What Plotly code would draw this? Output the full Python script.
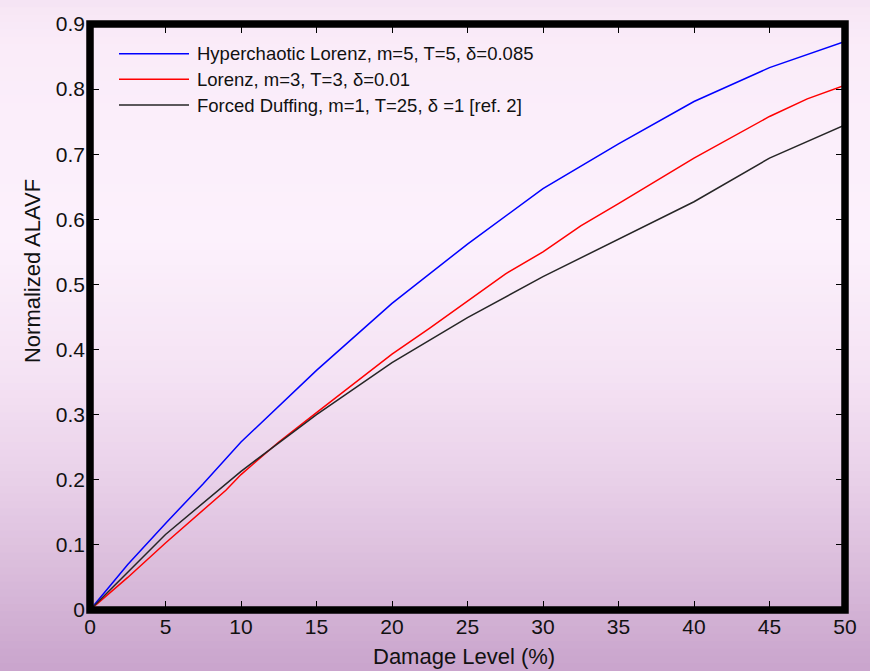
import plotly.graph_objects as go

# ---- data ----
x_hyper = [0, 2.5, 5, 7.5, 10, 15, 20, 25, 30, 35, 40, 45, 50]
y_hyper = [0, 0.07, 0.133, 0.194, 0.258, 0.368, 0.471, 0.562, 0.647, 0.716, 0.781, 0.833, 0.873]

x_lorenz = [0, 2.5, 5, 7.5, 9, 10, 12.5, 15, 17.5, 20, 22.5, 25, 27.5, 30, 32.5, 35, 40, 45, 47.5, 50]
y_lorenz = [0, 0.05, 0.103, 0.153, 0.184, 0.208, 0.258, 0.303, 0.348, 0.393, 0.433, 0.474, 0.516, 0.55, 0.59, 0.624, 0.694, 0.758, 0.785, 0.806]

x_duffing = [0, 5, 10, 15, 20, 25, 30, 35, 40, 45, 50]
y_duffing = [0, 0.116, 0.213, 0.3, 0.38, 0.449, 0.512, 0.57, 0.627, 0.694, 0.745]

series_names = [
    "Hyperchaotic Lorenz, m=5, T=5, δ=0.085",
    "Lorenz, m=3, T=3, δ=0.01",
    "Forced Duffing, m=1, T=25, δ =1 [ref. 2]",
]
series_colors = ["#0000ff", "#ff0000", "#262626"]

x_ticks = [0, 5, 10, 15, 20, 25, 30, 35, 40, 45, 50]
y_ticks = [0, 0.1, 0.2, 0.3, 0.4, 0.5, 0.6, 0.7, 0.8, 0.9]
y_tick_text = ["0", "0.1", "0.2", "0.3", "0.4", "0.5", "0.6", "0.7", "0.8", "0.9"]

x_title = "Damage Level (%)"
y_title = "Normalized ALAVF"

# ---- figure geometry (pixels) ----
W, H = 870, 671
L, R, T, B = 90, 25, 17, 61
pw, ph = W - L - R, H - T - B

def px2paper_x(px):
    return (px - L) / pw

def px2paper_y(py):
    return (H - B - py) / ph

FONT = "Liberation Sans, Arial, sans-serif"

fig = go.Figure()
for xs, ys, name, col in zip([x_hyper, x_lorenz, x_duffing],
                              [y_hyper, y_lorenz, y_duffing],
                              series_names, series_colors):
    fig.add_trace(go.Scatter(x=xs, y=ys, mode="lines", name=name,
                             line=dict(color=col, width=1.5), showlegend=False))

# ---- background gradient (bands) ----
stops = [
    (0.00, (247, 230, 245)),
    (0.06, (250, 236, 249)),
    (0.35, (252, 241, 252)),
    (0.55, (245, 227, 244)),
    (0.70, (234, 210, 234)),
    (0.85, (218, 188, 219)),
    (1.00, (201, 164, 204)),
]

def color_at(t):
    for (t0, c0), (t1, c1) in zip(stops[:-1], stops[1:]):
        if t0 <= t <= t1:
            f = (t - t0) / (t1 - t0)
            return tuple(round(a + (b - a) * f) for a, b in zip(c0, c1))
    return stops[-1][1]

shapes = []
nb = 90
for i in range(nb):
    y0p = H * i / nb
    y1p = H * (i + 1) / nb + 1
    c = color_at((i + 0.5) / nb)
    shapes.append(dict(type="rect", xref="paper", yref="paper", layer="below",
                       x0=px2paper_x(0), x1=px2paper_x(W),
                       y0=px2paper_y(y1p), y1=px2paper_y(y0p),
                       line=dict(width=0), fillcolor="rgb(%d,%d,%d)" % c))

# axes box (line centred on the plot-area boundary)
shapes.append(dict(type="rect", xref="paper", yref="paper", layer="above",
                   x0=0, x1=1, y0=0, y1=1,
                   line=dict(color="black", width=7.5), fillcolor="rgba(0,0,0,0)"))

# ---- manual legend ----
annotations = []
leg_rows = [47, 73, 99]
for name, col, ry in zip(series_names, series_colors, leg_rows):
    shapes.append(dict(type="line", xref="paper", yref="paper",
                       x0=px2paper_x(119), x1=px2paper_x(189),
                       y0=px2paper_y(ry), y1=px2paper_y(ry),
                       line=dict(color=col, width=1.5)))
    annotations.append(dict(text=name, xref="paper", yref="paper",
                            x=px2paper_x(195), y=px2paper_y(ry),
                            xanchor="left", yanchor="middle", showarrow=False,
                            font=dict(family=FONT, size=18.5, color="#111")))

annotations.append(dict(text=y_title, xref="paper", yref="paper",
                        x=px2paper_x(32), y=px2paper_y(267), textangle=-90,
                        xanchor="center", yanchor="middle", showarrow=False,
                        font=dict(family=FONT, size=22, color="#111")))
annotations.append(dict(text=x_title, xref="paper", yref="paper",
                        x=px2paper_x(464), y=px2paper_y(657),
                        xanchor="center", yanchor="middle", showarrow=False,
                        font=dict(family=FONT, size=22, color="#111")))

axis_common = dict(showline=False, mirror="allticks",
                   ticks="inside", ticklen=9, tickwidth=1, tickcolor="black",
                   showgrid=False, zeroline=False,
                   tickfont=dict(family=FONT, size=21, color="#111"))

fig.update_layout(
    width=W, height=H,
    margin=dict(l=L, r=R, t=T, b=B),
    paper_bgcolor="rgb(245,228,244)",
    plot_bgcolor="rgba(0,0,0,0)",
    shapes=shapes,
    annotations=annotations,
    xaxis=dict(range=[0, 50], tickvals=x_ticks, ticktext=[str(v) for v in x_ticks],
               ticklabelstandoff=2, **axis_common),
    yaxis=dict(range=[0, 0.9], tickvals=y_ticks, ticktext=y_tick_text,
               ticklabelstandoff=4, **axis_common),
)

fig.write_html("out.html")
